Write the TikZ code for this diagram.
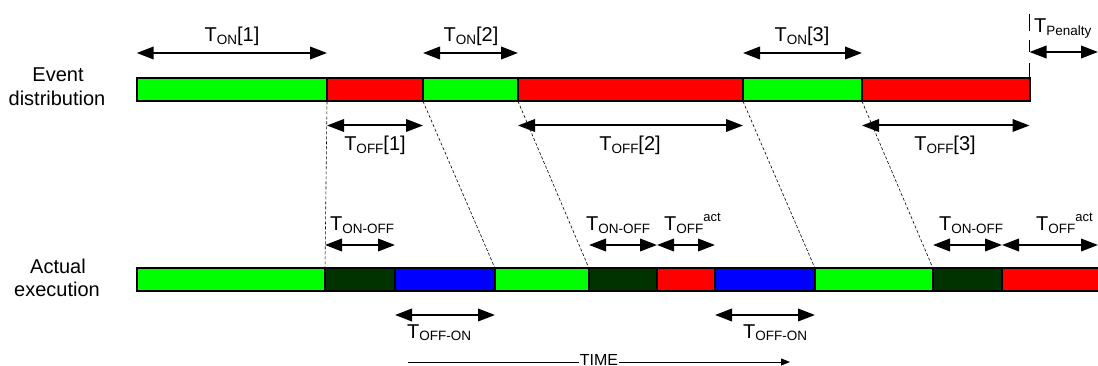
\documentclass[tikz,border=0pt]{standalone}
\usepackage{fontspec}
\setmainfont{Liberation Sans}
\usetikzlibrary{arrows.meta}

\definecolor{onclr}{HTML}{00FF00}
\definecolor{offclr}{HTML}{FF0000}
\definecolor{swclr}{HTML}{003300}
\definecolor{wakeclr}{HTML}{0000FF}

% T with a lowered index, and T_OFF with a raised "act"
\newcommand\Tsb[1]{T\raisebox{-2.5pt}{\fontsize{13.5}{13.5}\selectfont #1}}
\newcommand\Tact{\Tsb{OFF}\raisebox{9pt}{\fontsize{13}{13}\selectfont act}}

% one coloured block of a time bar: name, left x, right x, centre y, colour
\newcommand\seg[5]{\node[segbox,fill=#5,minimum width={(#3-#2)*1pt}] (#1) at ({(#2+#3)/2},#4) {};}

\tikzset{
  segbox/.style={draw=black, line width=2pt, minimum height=23pt, inner sep=0pt, outer sep=0pt},
  span/.style={line width=2pt, {Triangle[length=17pt,width=12.5pt]}-{Triangle[length=17pt,width=12.5pt]}},
  guide/.style={line width=0.6pt, dash pattern=on 3pt off 2pt},
  lbl/.style={inner sep=0pt, anchor=base},
  lblw/.style={inner sep=0pt, anchor=base west},
  timeline/.style={line width=1pt, -{Triangle[length=9pt,width=7pt]}},
  tick/.style={line width=1.5pt}
}

\begin{document}
\begin{tikzpicture}[x=1pt, y=-1pt, font=\fontsize{20}{24}\selectfont]
\useasboundingbox (0,0) rectangle (1098,366);
\clip (0,0) rectangle (1098,366);

% row labels
\node[lbl] (rowA1) at (58,82) {Event};
\node[lbl] (rowA2) at (57,106) {distribution};
\node[lbl] (rowB1) at (58,273) {Actual};
\node[lbl] (rowB2) at (57,296) {execution};

% event distribution bar
\seg{e1}{136.7}{327}{89.8}{onclr}
\seg{e2}{327}{423}{89.8}{offclr}
\seg{e3}{423}{518}{89.8}{onclr}
\seg{e4}{518}{743}{89.8}{offclr}
\seg{e5}{743}{862}{89.8}{onclr}
\seg{e6}{862}{1029.5}{89.8}{offclr}

% actual execution bar
\seg{a1}{136.7}{325}{279.8}{onclr}
\seg{a2}{325}{395}{279.8}{swclr}
\seg{a3}{395}{495}{279.8}{wakeclr}
\seg{a4}{495}{589}{279.8}{onclr}
\seg{a5}{589}{657}{279.8}{swclr}
\seg{a6}{657}{715}{279.8}{offclr}
\seg{a7}{715}{815}{279.8}{wakeclr}
\seg{a8}{815}{933}{279.8}{onclr}
\seg{a9}{933}{1002}{279.8}{swclr}
\seg{a10}{1002}{1115}{279.8}{offclr}

% reference heights of the span arrows
\coordinate (yon) at (0,53);
\coordinate (ypen) at (0,52);
\coordinate (yoff) at (0,125.5);
\coordinate (ysw) at (0,245);
\coordinate (ywk) at (0,315);
\coordinate (penEnd) at (1098,52);
\coordinate (actEnd) at (1098,245);

% dashed links from the planned edges to the actual edges
\draw[guide] (e1.south east) -- (a2.north west);
\draw[guide] (e2.south east) -- (a3.north east);
\draw[guide] (e3.south east) -- (a4.north east);
\draw[guide] (e4.south east) -- (a7.north east);
\draw[guide] (e5.south east) -- (a8.north east);

% ON spans
\draw[span] (e1.west |- yon) -- (e1.east |- yon);
\draw[span] (e3.west |- yon) -- (e3.east |- yon);
\draw[span] (e5.west |- yon) -- (e5.east |- yon);
\node[lbl] (lon1) at (232,42) {\Tsb{ON}[1]};
\node[lbl] (lon2) at (471,42) {\Tsb{ON}[2]};
\node[lbl] (lon3) at (802,42) {\Tsb{ON}[3]};

% penalty span
\coordinate (pk1) at (1029.5,14);
\coordinate (pk2) at (1029.5,31);
\coordinate (pk3) at (1029.5,40);
\coordinate (pk4) at (1029.5,63);
\draw[tick] (pk1) -- (pk2);
\draw[tick] (pk3) -- (e6.east |- ypen);
\draw[tick] (pk4) -- (e6.north east);
\draw[span] (e6.east |- ypen) -- (penEnd);
\node[lblw] (lpen) at (1034,33) {\Tsb{Penalty}};

% OFF spans
\draw[span] (e2.west |- yoff) -- (e2.east |- yoff);
\draw[span] (e4.west |- yoff) -- (e4.east |- yoff);
\draw[span] (e6.west |- yoff) -- (e6.east |- yoff);
\node[lbl] (loff1) at (375,151) {\Tsb{OFF}[1]};
\node[lbl] (loff2) at (630,151) {\Tsb{OFF}[2]};
\node[lbl] (loff3) at (945,151) {\Tsb{OFF}[3]};

% switching and actual OFF spans
\draw[span] (a2.west |- ysw) -- (a2.east |- ysw);
\draw[span] (a5.west |- ysw) -- (a5.east |- ysw);
\draw[span] (a6.west |- ysw) -- (a6.east |- ysw);
\draw[span] (a9.west |- ysw) -- (a9.east |- ysw);
\draw[span] (a10.west |- ysw) -- (actEnd);
\node[lblw] (lsw1) at (330,231) {\Tsb{ON-OFF}};
\node[lblw] (lsw2) at (586,231) {\Tsb{ON-OFF}};
\node[lblw] (lsw3) at (939,231) {\Tsb{ON-OFF}};
\node[lblw] (lact1) at (664,231) {\Tact};
\node[lblw] (lact2) at (1036,231) {\Tact};

% wake-up spans
\draw[span] (a3.west |- ywk) -- (a3.east |- ywk);
\draw[span] (a7.west |- ywk) -- (a7.east |- ywk);
\node[lblw] (lwk1) at (407,338) {\Tsb{OFF-ON}};
\node[lblw] (lwk2) at (743,338) {\Tsb{OFF-ON}};

% time axis
\coordinate (t0) at (408,362);
\coordinate (t1) at (790,362);
\draw[timeline] (t0) -- (t1);
\node[lbl, fill=white, inner xsep=0.5pt, inner ysep=0pt, font=\fontsize{16}{16}\selectfont] (ltime) at (599,365.5) {TIME};
\end{tikzpicture}
\end{document}
